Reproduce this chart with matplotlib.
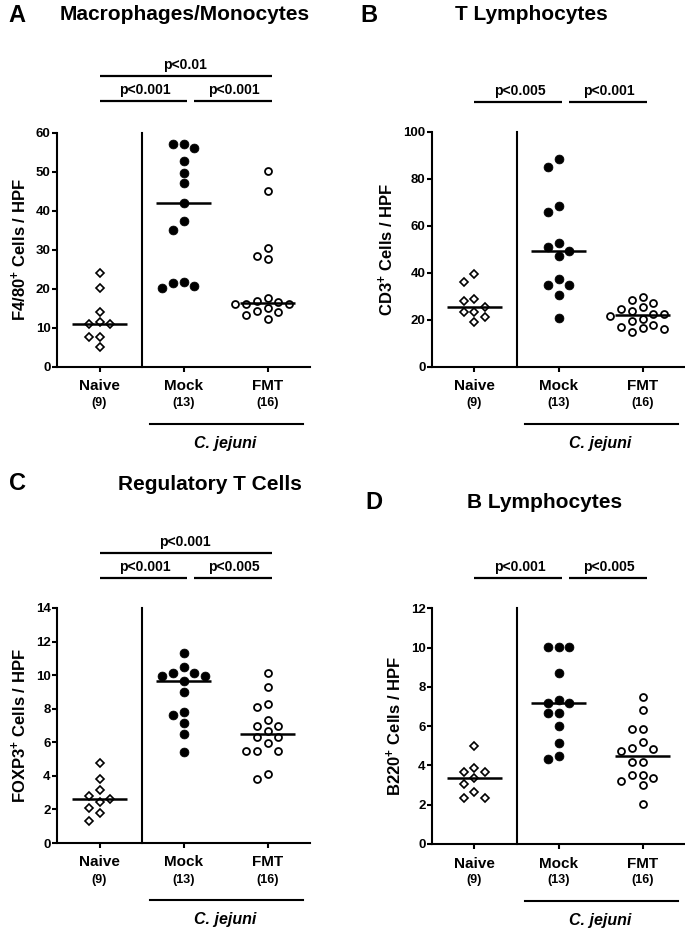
import numpy as np
import matplotlib
matplotlib.use('Agg')
import matplotlib.pyplot as plt
from matplotlib import transforms

plt.rcParams['font.family'] = ['Liberation Sans', 'DejaVu Sans']
plt.rcParams['font.weight'] = 'bold'
plt.rcParams['mathtext.fontset'] = 'custom'
plt.rcParams['mathtext.rm'] = 'Liberation Sans:bold'
plt.rcParams['mathtext.default'] = 'rm'

# ---------------- data ----------------
groups = ['Naive', 'Mock', 'FMT']
group_n = ['(9)', '(13)', '(16)']
infection_label = 'C. jejuni'

macro_naive = [24.1, 20.1, 14.1, 11.5, 10.9, 10.9, 7.5, 7.5, 5.0]
macro_mock = [57.1, 57.1, 56.1, 52.8, 49.6, 47.0, 41.9, 37.4, 35.1, 21.8, 21.5, 20.7, 20.3]
macro_fmt = [50.3, 45.1, 30.5, 28.5, 27.5, 17.6, 16.9, 16.7, 16.2, 16.2, 16.2, 15.0, 14.4, 14.1, 13.3, 12.2]

tcell_naive = [39.3, 36.0, 28.7, 27.8, 25.5, 23.4, 23.4, 21.3, 19.0]
tcell_mock = [88.5, 85.1, 68.5, 65.8, 52.5, 51.1, 49.2, 47.2, 37.4, 34.9, 34.9, 30.5, 20.9]
tcell_fmt = [29.8, 28.4, 27.0, 25.5, 24.4, 23.8, 22.3, 22.3, 21.6, 20.4, 19.3, 17.7, 17.0, 16.3, 15.9, 14.9]

treg_naive = [4.78, 3.79, 3.14, 2.80, 2.60, 2.46, 2.10, 1.80, 1.29]
treg_mock = [11.29, 10.46, 10.14, 10.14, 9.94, 9.94, 9.64, 8.97, 7.78, 7.62, 7.12, 6.47, 5.44]
treg_fmt = [10.14, 9.29, 8.29, 8.12, 7.30, 6.98, 6.98, 6.67, 6.29, 6.29, 5.97, 5.46, 5.46, 5.46, 4.13, 3.79]

bcell_naive = [5.01, 3.86, 3.69, 3.69, 3.36, 3.05, 2.67, 2.35, 2.35]
bcell_mock = [10.02, 10.02, 10.02, 8.69, 7.34, 7.17, 7.17, 6.66, 6.66, 6.01, 5.16, 4.50, 4.32]
bcell_fmt = [7.49, 6.83, 5.85, 5.85, 5.19, 4.88, 4.85, 4.71, 4.20, 4.20, 3.52, 3.52, 3.36, 3.22, 3.01, 2.03]

panel_letters = ['A', 'B', 'C', 'D']
panel_titles = ['Macrophages/Monocytes', 'T Lymphocytes', 'Regulatory T Cells', 'B Lymphocytes']
y_labels = ['F4/80$^{+}$ Cells / HPF', 'CD3$^{+}$ Cells / HPF',
            'FOXP3$^{+}$ Cells / HPF', 'B220$^{+}$ Cells / HPF']
y_max = [60, 100, 14, 12]
y_step = [10, 20, 2, 2]
p_top = ['p<0.01', None, 'p<0.001', None]
p_lower = [['p<0.001', 'p<0.001'], ['p<0.005', 'p<0.001'],
           ['p<0.001', 'p<0.005'], ['p<0.001', 'p<0.005']]

panel_data = [
    [macro_naive, macro_mock, macro_fmt],
    [tcell_naive, tcell_mock, tcell_fmt],
    [treg_naive, treg_mock, treg_fmt],
    [bcell_naive, bcell_mock, bcell_fmt],
]

# ---------------- layout (pixels) ----------------
W, H = 685, 931
fig = plt.figure(figsize=(W / 100, H / 100), dpi=100)

def fx(px):
    return px / W

def fy(py):
    return 1 - py / H

# left, top, bottom in px ; width 252 px (84 px per category)
axes_px = [(57.5, 132.7, 366.7), (432.5, 131.7, 366.7),
           (57.5, 608.0, 843.0), (432.5, 608.3, 844.0)]
letter_pos = [(17, 15), (369, 15), (17, 484), (374, 502)]
title_pos = [(185, 15), (531, 15), (210, 484), (545, 502)]
# (top bar py, top text py, lower bar py, lower text py)
pbar_px = [(76, 65, 101, 90), (None, None, 101.7, 90.5),
           (553, 542, 578, 567), (None, None, 578, 567.5)]

markers = [dict(marker='D', ms=3.9, mfc='white', mec='black', mew=1.2),
           dict(marker='o', ms=6.4, mfc='black', mec='black', mew=0.5),
           dict(marker='o', ms=5.0, mfc='white', mec='black', mew=1.3)]

STEP_PX = 10.7
DIAM_PX = 9.5
PX_PER_CAT = 84.0


def swarm_offsets(vals, px_per_unit):
    order = np.argsort(-np.asarray(vals), kind='stable')
    placed = []
    offs = np.zeros(len(vals))
    cands = [0]
    for k in range(1, 10):
        cands += [-k, k]
    for i in order:
        y = vals[i] * px_per_unit
        for k in cands:
            ok = True
            for kk, yy in placed:
                if ((k - kk) * STEP_PX) ** 2 + (y - yy) ** 2 < DIAM_PX ** 2:
                    ok = False
                    break
            if ok:
                placed.append((k, y))
                offs[i] = k * STEP_PX / PX_PER_CAT
                break
    return offs


for p in range(4):
    left, top, bot = axes_px[p]
    hpx = bot - top
    ax = fig.add_axes([fx(left), fy(bot), fx(252), hpx / H])
    ax.set_xlim(-0.5, 2.5)
    ax.set_ylim(0, y_max[p])
    for s in ['top', 'right']:
        ax.spines[s].set_visible(False)
    for s in ['left', 'bottom']:
        ax.spines[s].set_linewidth(1.5)
    ax.set_yticks(np.arange(0, y_max[p] + 0.001, y_step[p]))
    ax.set_xticks([0, 1, 2])
    ax.set_xticklabels([])
    ax.tick_params(axis='both', direction='out', length=3.5, width=1.5)
    for lab in ax.get_yticklabels():
        lab.set_fontsize(9.5)
        lab.set_fontweight('bold')
    ax.tick_params(axis='y', pad=1.5)
    ax.set_ylabel(y_labels[p], fontsize=12, fontweight='bold', labelpad=5)

    ppu = hpx / y_max[p]
    for g, vals in enumerate(panel_data[p]):
        offs = swarm_offsets(vals, ppu)
        ax.plot(g + offs, vals, linestyle='none', clip_on=False, zorder=3, **markers[g])
        med = np.median(vals)
        ax.plot([g - 0.33, g + 0.33], [med, med], color='black', lw=1.8,
                zorder=4, solid_capstyle='butt')

    # separator
    ax.plot([0.5, 0.5], [0, y_max[p]], color='black', lw=1.5, clip_on=False)

    trans = transforms.blended_transform_factory(ax.transData, ax.transAxes)

    def yax(py):
        return (bot - py) / hpx

    # group labels
    for g in range(3):
        ax.text(g, yax(bot + 19.5), groups[g], transform=trans, ha='center',
                va='center', fontsize=11, fontweight='bold')
        ax.text(g, yax(bot + 36.5), group_n[g], transform=trans, ha='center',
                va='center', fontsize=9, fontweight='bold')
    ax.plot([0.607, 2.417], [yax(bot + 57.3)] * 2, transform=trans, color='black',
            lw=1.5, clip_on=False)
    ax.text(1.5, yax(bot + 76.3), infection_label, transform=trans, ha='center',
            va='center', fontsize=11.5, fontweight='bold', style='italic')

    # p-value bars
    tb, tt, lb, lt = pbar_px[p]
    if p_top[p] is not None:
        ax.plot([0.0, 2.05], [yax(tb)] * 2, transform=trans, color='black', lw=1.6,
                clip_on=False, solid_capstyle='butt')
        ax.text(1.02, yax(tt), p_top[p], transform=trans, ha='center', va='center',
                fontsize=10, fontweight='bold')
    spans = [(0.0, 1.04), (1.12, 2.05)]
    for (a, b), txt in zip(spans, p_lower[p]):
        ax.plot([a, b], [yax(lb)] * 2, transform=trans, color='black', lw=1.6,
                clip_on=False, solid_capstyle='butt')
        ax.text((a + b) / 2 + 0.02, yax(lt), txt, transform=trans, ha='center',
                va='center', fontsize=10, fontweight='bold')

    # titles
    fig.text(fx(letter_pos[p][0]), fy(letter_pos[p][1]), panel_letters[p],
             ha='center', va='center', fontsize=17, fontweight='bold')
    fig.text(fx(title_pos[p][0]), fy(title_pos[p][1]), panel_titles[p],
             ha='center', va='center', fontsize=15, fontweight='bold')

fig.savefig('out.png', dpi=100)
